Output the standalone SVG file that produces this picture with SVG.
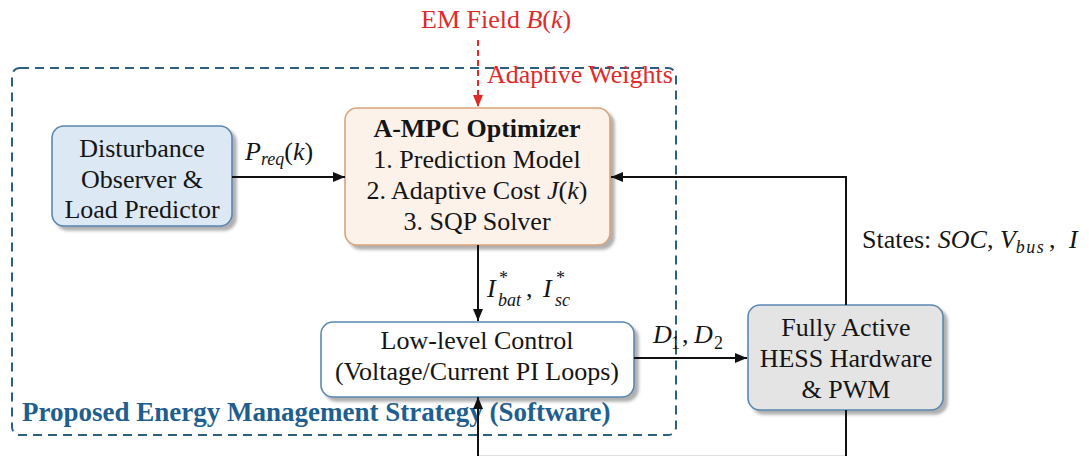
<svg xmlns="http://www.w3.org/2000/svg" width="1089" height="456" viewBox="0 0 1089 456">
<defs>
<marker id="ah" viewBox="0 0 12 10" refX="12" refY="5" markerWidth="12" markerHeight="10" markerUnits="userSpaceOnUse" orient="auto"><path d="M0,0 L12,5 L0,10 z" fill="#111"/></marker>
<marker id="ahr" viewBox="0 0 12 10" refX="12" refY="5" markerWidth="12" markerHeight="10" markerUnits="userSpaceOnUse" orient="auto"><path d="M0,0 L12,5 L0,10 z" fill="#e02a2a"/></marker>
<filter id="sh" x="-10%" y="-10%" width="130%" height="130%"><feDropShadow dx="4" dy="4" stdDeviation="1.5" flood-color="#7a7a7a" flood-opacity="0.6"/></filter>
</defs>
<style>
text{font-family:"Liberation Serif","Times New Roman",serif;font-size:26px;fill:#151515}
.c{text-anchor:middle}
.i{font-style:italic}
.s{font-size:18px}
.b{font-weight:bold}
.red{fill:#e02a2a}
.blue{fill:#1f5f8f}
.node{stroke-width:1.6}
.conn{fill:none;stroke:#111;stroke-width:2}
</style>
<rect x="12" y="68" width="664" height="367" rx="8" fill="none" stroke="#2d6080" stroke-width="2" stroke-dasharray="9 6"/>
<text x="22" y="421" class="b blue" style="font-size:27px">Proposed Energy Management Strategy (Software)</text>
<g id="n-disturbance">
<rect class="node" x="52" y="126" width="180" height="100" rx="12" fill="#dce8f4" stroke="#5a88b0" filter="url(#sh)"/>
<text x="142" y="157" class="c">Disturbance</text>
<text x="142" y="188" class="c">Observer &amp;</text>
<text x="142" y="218" class="c">Load Predictor</text>
</g>
<g id="n-ampc">
<rect class="node" x="345" y="108" width="265" height="137" rx="12" fill="#fdf2ea" stroke="#d9a27a" filter="url(#sh)"/>
<text x="477" y="137" class="c b">A-MPC Optimizer</text>
<text x="477" y="168" class="c">1. Prediction Model</text>
<text x="477" y="199" class="c">2. Adaptive Cost <tspan class="i">J</tspan>(<tspan class="i">k</tspan>)</text>
<text x="477" y="230" class="c">3. SQP Solver</text>
</g>
<g id="n-lowlevel">
<rect class="node" x="321" y="322" width="313" height="75" rx="12" fill="#ffffff" stroke="#5a88b0" filter="url(#sh)"/>
<text x="477" y="349" class="c">Low-level Control</text>
<text x="477" y="380" class="c">(Voltage/Current PI Loops)</text>
</g>
<g id="n-hess">
<rect class="node" x="748" y="305" width="195" height="105" rx="12" fill="#e4e4e4" stroke="#5a88b0" filter="url(#sh)"/>
<text x="846" y="336" class="c">Fully Active</text>
<text x="846" y="367" class="c">HESS Hardware</text>
<text x="846" y="398" class="c">&amp; PWM</text>
</g>
<g id="connectors">
<path class="conn" d="M232 177 H345" marker-end="url(#ah)"/>
<path class="conn" d="M846 305 V177 H611" marker-end="url(#ah)"/>
<path class="conn" d="M478 245 V321" marker-end="url(#ah)"/>
<path class="conn" d="M634 358 H747" marker-end="url(#ah)"/>
<path class="conn" d="M846 410 V457 M478 457 V397" marker-end="url(#ah)"/>
<path d="M478 456 H846" fill="none" stroke="#111" stroke-width="1" stroke-opacity="0.25"/>
<path d="M478 40 V107" fill="none" stroke="#e02a2a" stroke-width="2" stroke-dasharray="6 4" marker-end="url(#ahr)"/>
</g>
<g id="labels">
<text x="421" y="28" class="red">EM Field <tspan class="i">B</tspan>(<tspan class="i">k</tspan>)</text>
<text x="487" y="83" class="red">Adaptive Weights</text>
<text x="245" y="160"><tspan class="i">P</tspan><tspan class="i s" dy="5">req</tspan><tspan dy="-5">(</tspan><tspan class="i">k</tspan>)</text>
<text x="487" y="297" class="i">I</text>
<text x="499" y="284" class="s">*</text>
<text x="498" y="306" class="i s">bat</text>
<text x="526" y="297">,</text>
<text x="543" y="297" class="i">I</text>
<text x="556" y="284" class="s">*</text>
<text x="555" y="306" class="i s">sc</text>
<text x="653" y="343" class="i">D</text>
<text x="671" y="349" class="s">1</text>
<text x="682" y="343">,</text>
<text x="694" y="343" class="i">D</text>
<text x="714" y="349" class="s">2</text>
<text x="862" y="248">States: <tspan class="i">SOC</tspan>, <tspan class="i">V</tspan><tspan class="i s" dy="5" letter-spacing="1.5">bus</tspan></text>
<text x="1049" y="248">,</text>
<text x="1069" y="248" class="i">I</text>
</g>
</svg>
